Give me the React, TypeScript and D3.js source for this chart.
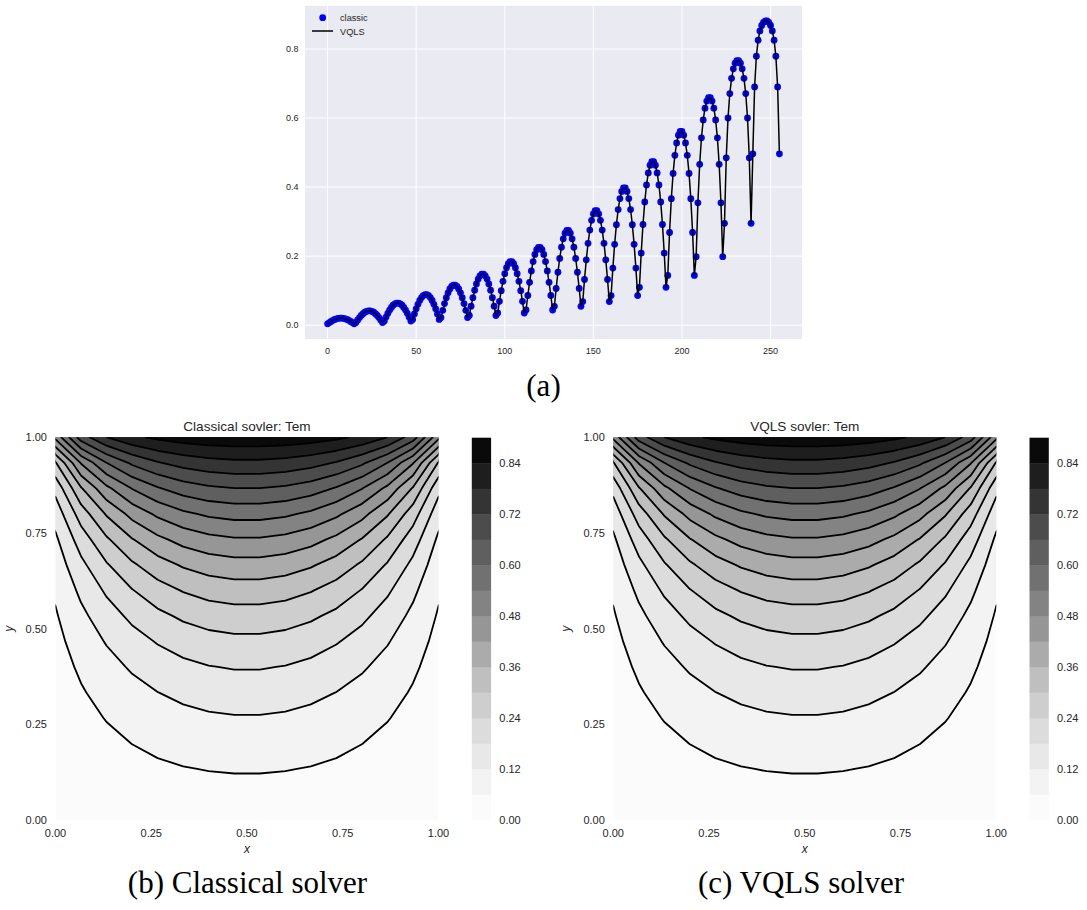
import React from "react";
import * as d3 from "d3";

// ---- Data: temperature field on a 16x16 grid (row 0 = bottom, y=0) ----
const row00 = [0.0038, 0.0075, 0.0109, 0.0139, 0.0164, 0.0184, 0.0197, 0.0204, 0.0204, 0.0197, 0.0184, 0.0164, 0.0139, 0.0109, 0.0075, 0.0038];
const row01 = [0.0077, 0.0152, 0.0221, 0.0283, 0.0334, 0.0374, 0.0401, 0.0415, 0.0415, 0.0401, 0.0374, 0.0334, 0.0283, 0.0221, 0.0152, 0.0077];
const row02 = [0.0120, 0.0235, 0.0342, 0.0436, 0.0515, 0.0577, 0.0619, 0.0640, 0.0640, 0.0619, 0.0577, 0.0515, 0.0436, 0.0342, 0.0235, 0.0120];
const row03 = [0.0166, 0.0326, 0.0474, 0.0605, 0.0715, 0.0799, 0.0857, 0.0886, 0.0886, 0.0857, 0.0799, 0.0715, 0.0605, 0.0474, 0.0326, 0.0166];
const row04 = [0.0219, 0.0429, 0.0624, 0.0795, 0.0938, 0.1049, 0.1124, 0.1162, 0.1162, 0.1124, 0.1049, 0.0938, 0.0795, 0.0624, 0.0429, 0.0219];
const row05 = [0.0280, 0.0549, 0.0796, 0.1014, 0.1195, 0.1334, 0.1428, 0.1475, 0.1475, 0.1428, 0.1334, 0.1195, 0.1014, 0.0796, 0.0549, 0.0280];
const row06 = [0.0352, 0.0690, 0.0999, 0.1269, 0.1492, 0.1663, 0.1779, 0.1837, 0.1837, 0.1779, 0.1663, 0.1492, 0.1269, 0.0999, 0.0690, 0.0352];
const row07 = [0.0439, 0.0859, 0.1241, 0.1571, 0.1842, 0.2048, 0.2187, 0.2256, 0.2256, 0.2187, 0.2048, 0.1842, 0.1571, 0.1241, 0.0859, 0.0439];
const row08 = [0.0547, 0.1065, 0.1533, 0.1933, 0.2258, 0.2501, 0.2664, 0.2744, 0.2744, 0.2664, 0.2501, 0.2258, 0.1933, 0.1533, 0.1065, 0.0547];
const row09 = [0.0682, 0.1323, 0.1892, 0.2372, 0.2753, 0.3036, 0.3222, 0.3314, 0.3314, 0.3222, 0.3036, 0.2753, 0.2372, 0.1892, 0.1323, 0.0682];
const row10 = [0.0858, 0.1653, 0.2342, 0.2908, 0.3348, 0.3667, 0.3874, 0.3976, 0.3976, 0.3874, 0.3667, 0.3348, 0.2908, 0.2342, 0.1653, 0.0858];
const row11 = [0.1097, 0.2087, 0.2916, 0.3571, 0.4062, 0.4410, 0.4632, 0.4739, 0.4739, 0.4632, 0.4410, 0.4062, 0.3571, 0.2916, 0.2087, 0.1097];
const row12 = [0.1441, 0.2684, 0.3664, 0.4396, 0.4921, 0.5280, 0.5503, 0.5610, 0.5610, 0.5503, 0.5280, 0.4921, 0.4396, 0.3664, 0.2684, 0.1441];
const row13 = [0.1983, 0.3544, 0.4659, 0.5427, 0.5946, 0.6286, 0.6491, 0.6588, 0.6588, 0.6491, 0.6286, 0.5946, 0.5427, 0.4659, 0.3544, 0.1983];
const row14 = [0.2949, 0.4848, 0.6001, 0.6709, 0.7151, 0.7426, 0.7587, 0.7662, 0.7662, 0.7587, 0.7426, 0.7151, 0.6709, 0.6001, 0.4848, 0.2949];
const row15 = [0.4962, 0.6900, 0.7790, 0.8256, 0.8523, 0.8680, 0.8771, 0.8812, 0.8812, 0.8771, 0.8680, 0.8523, 0.8256, 0.7790, 0.6900, 0.4962];

const classicGrid = [row00, row01, row02, row03, row04, row05, row06, row07, row08, row09, row10, row11, row12, row13, row14, row15];
const vqlsGrid = classicGrid;

const topXTicks = [0, 50, 100, 150, 200, 250];
const topYTicks = [0, 0.2, 0.4, 0.6, 0.8];
const levels = [0, 0.06, 0.12, 0.18, 0.24, 0.3, 0.36, 0.42, 0.48, 0.54, 0.6, 0.66, 0.72, 0.78, 0.84, 0.9];
const cbarTicks = [0, 0.12, 0.24, 0.36, 0.48, 0.6, 0.72, 0.84];
const axisTicks = [0, 0.25, 0.5, 0.75, 1];

const greys = d3.piecewise(d3.interpolateRgb, ["#ffffff", "#f0f0f0", "#d9d9d9", "#bdbdbd", "#969696", "#737373", "#525252", "#252525", "#000000"]);
const bandColor = (k: number) => greys(((levels[k] + levels[k + 1]) / 2 - levels[0]) / (levels[levels.length - 1] - levels[0]));

const SANS = "'Liberation Sans', Arial, sans-serif";
const SERIF = "'Liberation Serif', 'Times New Roman', serif";
const TXT = "#262626";

function TopChart() {
  const classic = classicGrid.flat();
  const vqls = vqlsGrid.flat();
  const n = classic.length;
  const ext = d3.extent(classic) as [number, number];
  const pad = (ext[1] - ext[0]) * 0.05;
  const x = d3.scaleLinear().domain([-(n - 1) * 0.05, (n - 1) * 1.05]).range([305, 802]);
  const y = d3.scaleLinear().domain([ext[0] - pad, ext[1] + pad]).range([339, 5.8]);
  const line = d3.line<number>().x((_, i) => x(i)).y((d) => y(d));
  const [x0, x1] = x.range();
  const [y0, y1] = y.range();
  return (
    <g>
      <rect x={x0} y={y1} width={x1 - x0} height={y0 - y1} fill="#EAEAF2" />
      {topXTicks.map((t) => (
        <line key={"gx" + t} x1={x(t)} x2={x(t)} y1={y1} y2={y0} stroke="#fff" strokeWidth={1} />
      ))}
      {topYTicks.map((t) => (
        <line key={"gy" + t} x1={x0} x2={x1} y1={y(t)} y2={y(t)} stroke="#fff" strokeWidth={1} />
      ))}
      {topXTicks.map((t) => (
        <text key={"tx" + t} x={x(t)} y={354} textAnchor="middle" fontSize={9} fill={TXT} fontFamily={SANS}>{t}</text>
      ))}
      {topYTicks.map((t) => (
        <text key={"ty" + t} x={298.5} y={y(t) + 3.2} textAnchor="end" fontSize={9} fill={TXT} fontFamily={SANS}>{t.toFixed(1)}</text>
      ))}
      {classic.map((v, i) => (
        <circle key={"p" + i} cx={x(i)} cy={y(v)} r={3.4} fill="#0000ff" />
      ))}
      <path d={line(vqls) || ""} fill="none" stroke="#000" strokeWidth={1.5} strokeLinejoin="round" />
      {/* legend */}
      <circle cx={322.7} cy={17.7} r={3.4} fill="#0000ff" />
      <text x={340} y={21.3} fontSize={9.2} fill={TXT} fontFamily={SANS}>classic</text>
      <line x1={312} x2={333} y1={31} y2={31} stroke="#000" strokeWidth={1.5} />
      <text x={340} y={34.5} fontSize={9.2} fill={TXT} fontFamily={SANS}>VQLS</text>
    </g>
  );
}

function ContourPanel({ grid, left, cbarLeft, title, id }: { grid: number[][]; left: number; cbarLeft: number; title: string; id: string }) {
  const ny = grid.length;
  const nx = grid[0].length;
  const values = grid.flat();
  const size = 383;
  const top = 437.3;
  const bottom = 820;
  const xs = d3.scaleLinear().domain([0, 1]).range([left, left + size]);
  const ys = d3.scaleLinear().domain([0, 1]).range([bottom, top]);
  const proj = d3.geoTransform({
    point(px: number, py: number) {
      (this as any).stream.point(xs((px - 0.5) / (nx - 1)), ys((py - 0.5) / (ny - 1)));
    },
  });
  const path = d3.geoPath(proj);
  const inner = levels.slice(1, levels.length - 1);
  const contours = d3.contours().size([nx, ny]).thresholds(inner)(values);
  const cb = d3.scaleLinear().domain([levels[0], levels[levels.length - 1]]).range([bottom, 437.7]);
  return (
    <g>
      <defs>
        <clipPath id={id}>
          <rect x={left} y={top} width={size} height={bottom - top} />
        </clipPath>
      </defs>
      <g clipPath={`url(#${id})`}>
        <rect x={left} y={top} width={size} height={bottom - top} fill={bandColor(0)} />
        {contours.map((c, k) => (
          <path key={"f" + k} d={path(c as any) || ""} fill={bandColor(k + 1)} fillRule="evenodd" stroke="none" />
        ))}
        {contours.map((c, k) => (
          <path key={"l" + k} d={path(c as any) || ""} fill="none" stroke="#000" strokeWidth={1.8} strokeLinejoin="round" />
        ))}
      </g>
      <text x={left + size / 2} y={430.5} textAnchor="middle" fontSize={13.6} fill={TXT} fontFamily={SANS}>{title}</text>
      {axisTicks.map((t) => (
        <text key={"xt" + t} x={xs(t)} y={836.5} textAnchor="middle" fontSize={11} fill={TXT} fontFamily={SANS}>{t.toFixed(2)}</text>
      ))}
      {axisTicks.map((t) => (
        <text key={"yt" + t} x={left - 8.5} y={ys(t) + 4} textAnchor="end" fontSize={11} fill={TXT} fontFamily={SANS}>{t.toFixed(2)}</text>
      ))}
      <text x={left + size / 2} y={853} textAnchor="middle" fontSize={12} fontStyle="italic" fill={TXT} fontFamily={SANS}>x</text>
      <text transform={`translate(${left - 43},${(top + bottom) / 2}) rotate(-90)`} textAnchor="middle" fontSize={12} fontStyle="italic" fill={TXT} fontFamily={SANS}>y</text>
      {levels.slice(0, levels.length - 1).map((lv, k) => (
        <rect key={"cb" + k} x={cbarLeft} y={cb(levels[k + 1])} width={19.3} height={cb(lv) - cb(levels[k + 1]) + 0.3} fill={bandColor(k)} />
      ))}
      {cbarTicks.map((t) => (
        <text key={"ct" + t} x={cbarLeft + 27.5} y={cb(t) + 4} fontSize={11} fill={TXT} fontFamily={SANS}>{t.toFixed(2)}</text>
      ))}
    </g>
  );
}

export default function App() {
  return (
    <svg width={1087} height={910} style={{ position: "absolute", left: 0, top: 0, background: "#fff" }}>
      <rect width={1087} height={910} fill="#fff" />
      <TopChart />
      <text x={543.5} y={396} textAnchor="middle" fontSize={31} fill="#000" fontFamily={SERIF}>(a)</text>
      <ContourPanel grid={classicGrid} left={55.5} cbarLeft={471.8} title="Classical sovler: Tem" id="clipA" />
      <ContourPanel grid={vqlsGrid} left={613.3} cbarLeft={1029.5} title="VQLS sovler: Tem" id="clipB" />
      <text x={247.5} y={893} textAnchor="middle" fontSize={31} fill="#000" fontFamily={SERIF}>(b) Classical solver</text>
      <text x={801} y={893} textAnchor="middle" fontSize={31} fill="#000" fontFamily={SERIF}>(c) VQLS solver</text>
    </svg>
  );
}
